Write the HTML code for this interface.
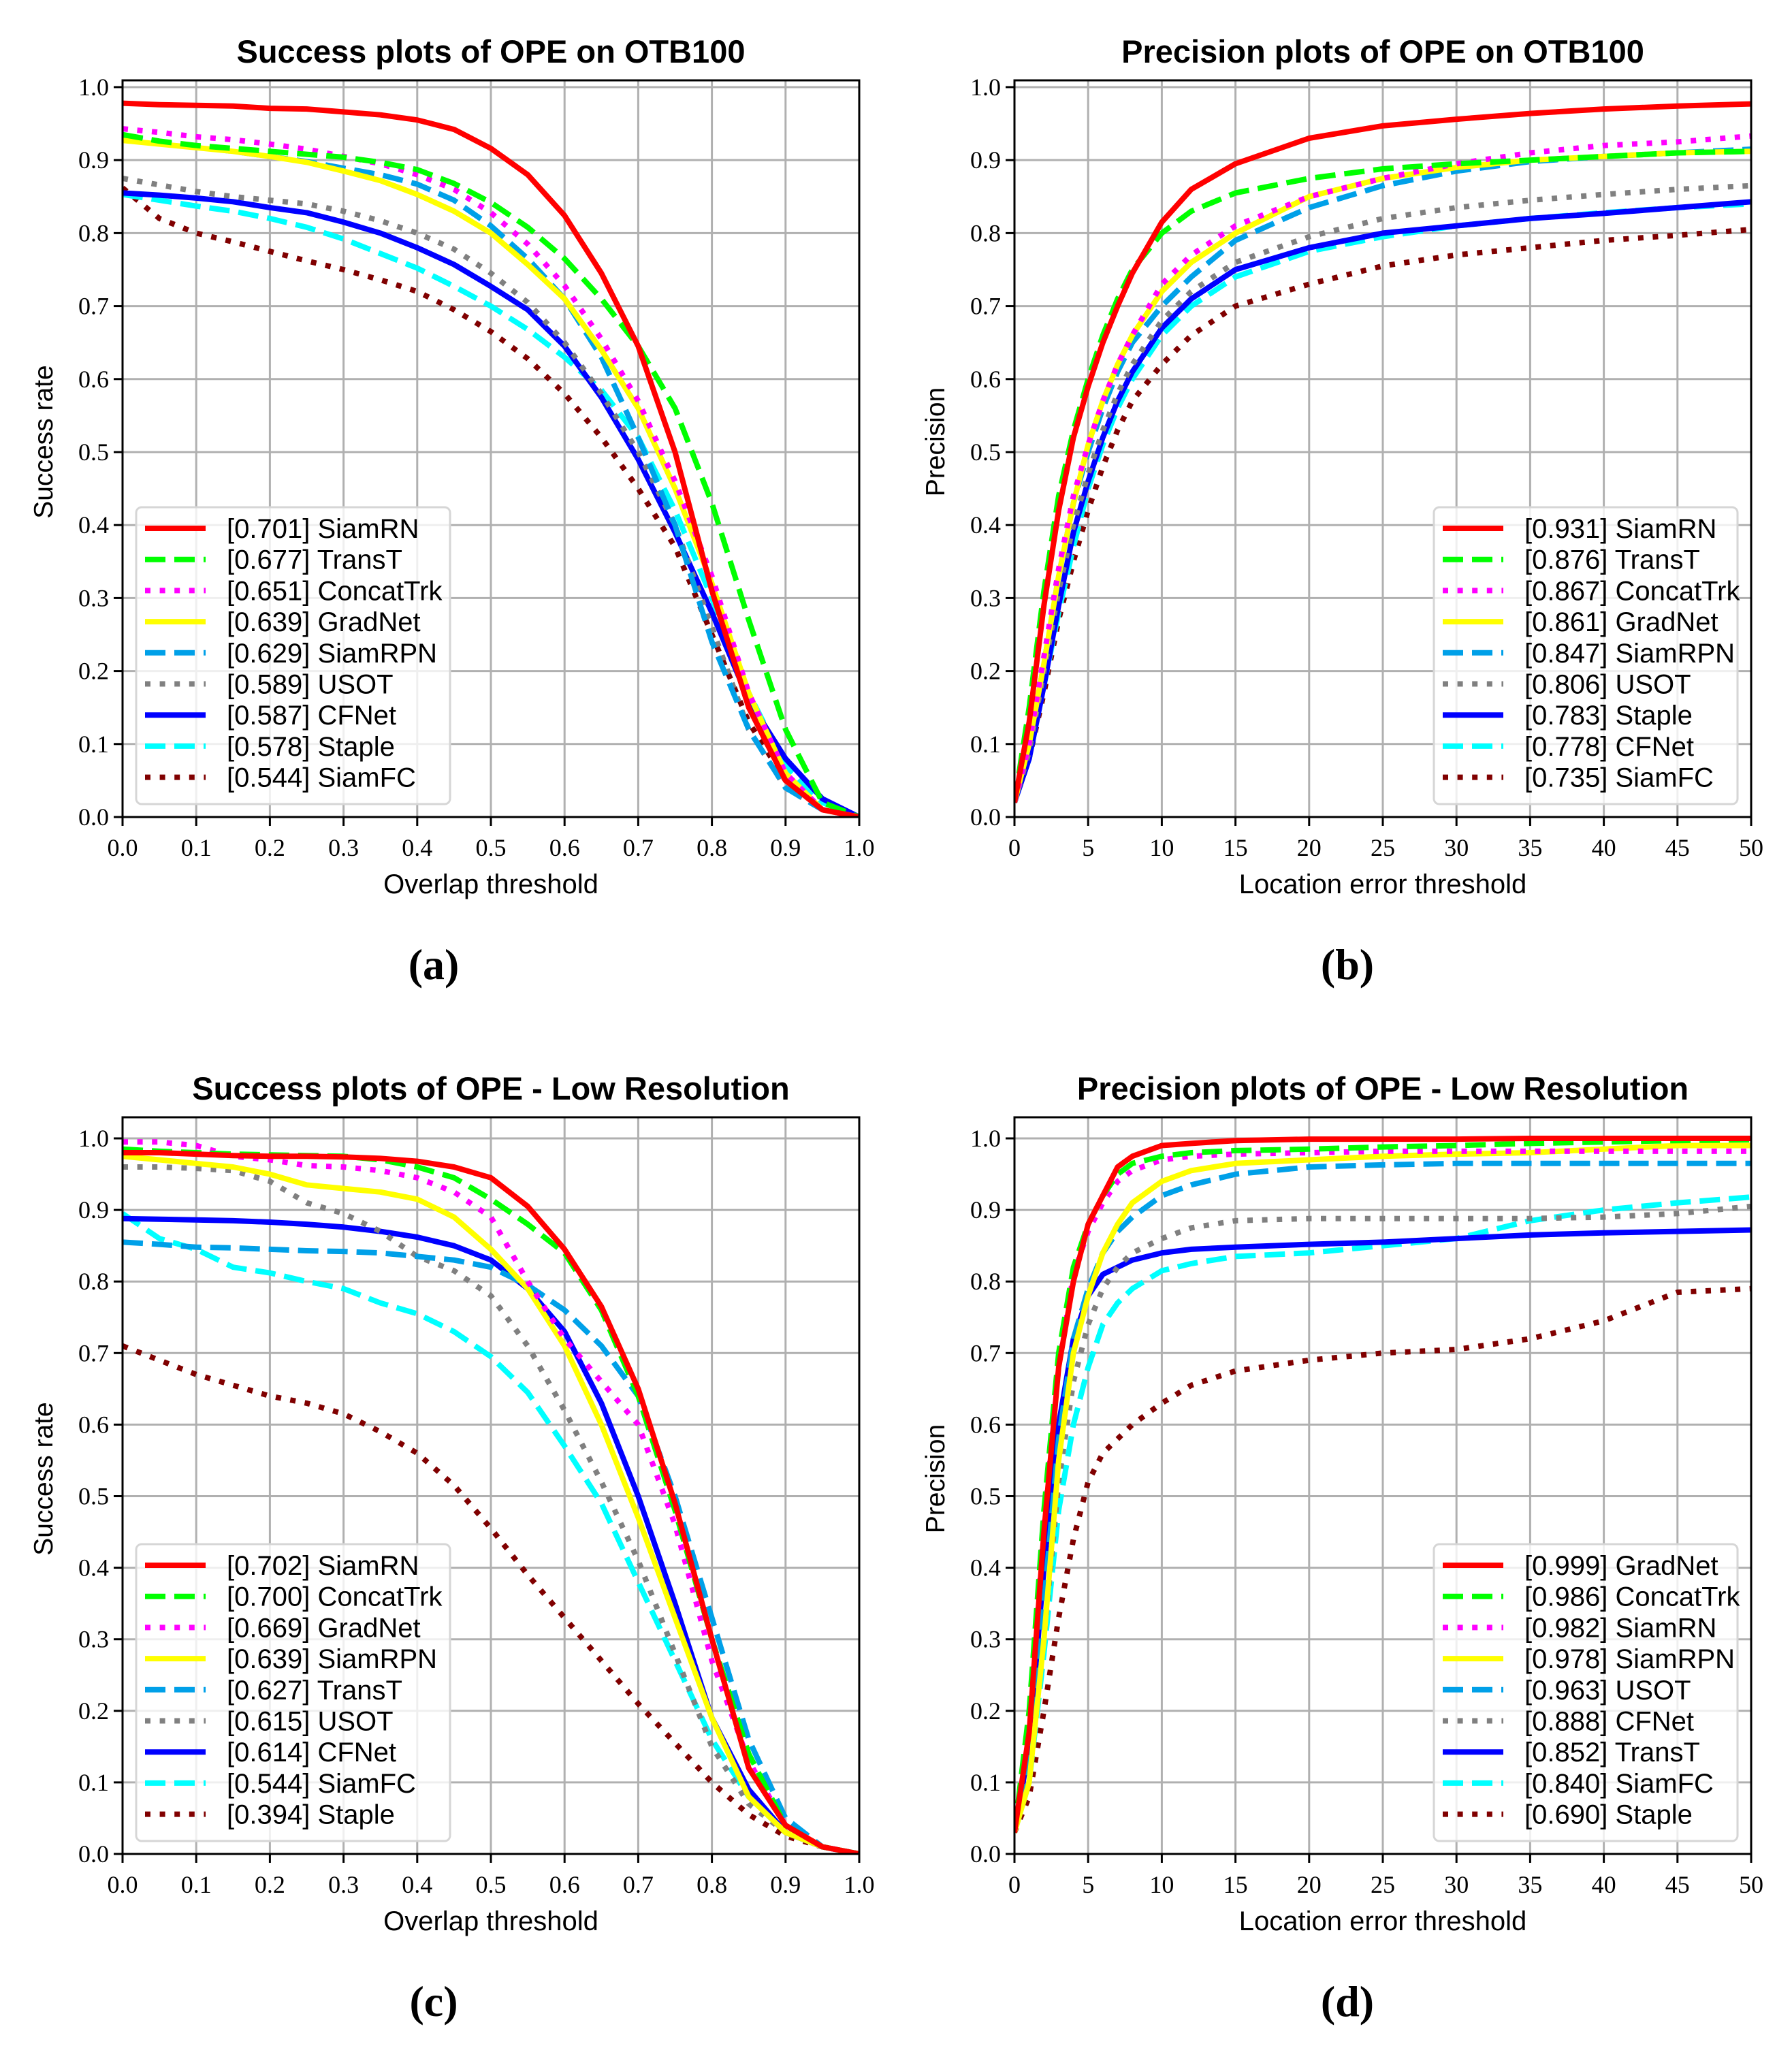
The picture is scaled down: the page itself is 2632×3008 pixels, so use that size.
<!DOCTYPE html>
<html><head><meta charset="utf-8"><style>
html,body{margin:0;padding:0;background:#fff;}
svg{display:block;}
text{fill:#000;}
</style></head><body>
<svg id="fig" width="2632" height="3008" viewBox="0 0 2632 3008" xmlns="http://www.w3.org/2000/svg"></svg>
<script>
// ---------- data ----------
const successX = [0,0.05,0.1,0.15,0.2,0.25,0.3,0.35,0.4,0.45,0.5,0.55,0.6,0.65,0.7,0.75,0.8,0.85,0.9,0.95,1.0];
const precX = [0,1,2,3,4,5,6,7,8,10,12,15,20,25,30,35,40,45,50];
const successTicks = ["0.0","0.1","0.2","0.3","0.4","0.5","0.6","0.7","0.8","0.9","1.0"];
const precTicks = ["0","5","10","15","20","25","30","35","40","45","50"];
const yTicks = ["0.0","0.1","0.2","0.3","0.4","0.5","0.6","0.7","0.8","0.9","1.0"];

// (a)
const aNames = ["SiamRN","TransT","ConcatTrk","GradNet","SiamRPN","USOT","CFNet","Staple","SiamFC"];
const aScores = ["0.701","0.677","0.651","0.639","0.629","0.589","0.587","0.578","0.544"];
const aSiamRN = [.978,.976,.975,.974,.971,.970,.966,.962,.955,.942,.916,.88,.824,.745,.645,.50,.31,.15,.05,.01,0];
const aTransT = [.935,.926,.92,.916,.912,.908,.904,.897,.887,.868,.842,.808,.765,.71,.645,.56,.43,.27,.12,.02,0];
const aConcatTrk = [.943,.938,.932,.928,.922,.915,.905,.895,.88,.86,.828,.785,.728,.655,.57,.46,.33,.17,.06,.01,0];
const aGradNet = [.927,.922,.917,.912,.905,.897,.885,.872,.853,.83,.80,.757,.71,.64,.56,.45,.32,.17,.06,.01,0];
const aSiamRPN = [.933,.925,.918,.912,.905,.898,.889,.88,.867,.845,.81,.765,.71,.63,.52,.40,.24,.12,.04,.01,0];
const aUSOT = [.875,.866,.857,.85,.845,.84,.83,.817,.80,.778,.745,.705,.65,.58,.50,.40,.26,.12,.04,.01,0];
const aCFNet = [.855,.852,.848,.843,.835,.828,.815,.80,.78,.757,.727,.695,.645,.575,.49,.39,.28,.16,.08,.025,0];
const aStaple = [.853,.845,.837,.83,.82,.808,.792,.772,.752,.727,.70,.668,.63,.585,.52,.42,.30,.17,.07,.02,0];
const aSiamFC = [.862,.82,.80,.788,.775,.762,.75,.736,.72,.695,.665,.628,.58,.52,.45,.37,.25,.13,.05,.01,0];

// (b)
const bNames = ["SiamRN","TransT","ConcatTrk","GradNet","SiamRPN","USOT","Staple","CFNet","SiamFC"];
const bScores = ["0.931","0.876","0.867","0.861","0.847","0.806","0.783","0.778","0.735"];
const bSiamRN = [.02,.13,.29,.42,.52,.59,.65,.70,.745,.815,.86,.895,.93,.947,.956,.964,.970,.974,.977];
const bTransT = [.02,.15,.31,.44,.53,.60,.66,.71,.75,.80,.83,.855,.875,.888,.895,.90,.905,.91,.912];
const bConcatTrk = [.02,.10,.22,.34,.44,.51,.57,.62,.66,.73,.77,.81,.85,.875,.895,.91,.92,.925,.933];
const bGradNet = [.02,.10,.21,.33,.43,.51,.57,.62,.66,.72,.76,.80,.85,.875,.89,.90,.905,.91,.912];
const bSiamRPN = [.02,.10,.21,.33,.43,.50,.56,.61,.65,.70,.74,.79,.835,.865,.885,.898,.905,.91,.915];
const bUSOT = [.02,.09,.20,.31,.40,.47,.53,.58,.62,.68,.72,.76,.795,.82,.835,.845,.853,.86,.865];
const bStaple = [.02,.08,.18,.29,.39,.46,.52,.57,.61,.67,.71,.75,.78,.80,.81,.82,.827,.835,.843];
const bCFNet = [.02,.08,.18,.28,.37,.45,.51,.56,.60,.66,.70,.74,.775,.795,.81,.82,.828,.835,.84];
const bSiamFC = [.02,.08,.17,.27,.35,.42,.48,.53,.57,.62,.66,.70,.73,.755,.77,.78,.79,.797,.805];

// (c)
const cNames = ["SiamRN","ConcatTrk","GradNet","SiamRPN","TransT","USOT","CFNet","SiamFC","Staple"];
const cScores = ["0.702","0.700","0.669","0.639","0.627","0.615","0.614","0.544","0.394"];
const cSiamRN = [.98,.98,.978,.976,.975,.975,.974,.972,.968,.96,.945,.905,.845,.765,.65,.49,.30,.12,.04,.01,0];
const cConcatTrk = [.985,.982,.98,.978,.977,.976,.975,.97,.96,.945,.915,.88,.84,.76,.64,.48,.30,.14,.04,.01,0];
const cGradNet = [.995,.995,.99,.975,.97,.962,.96,.955,.945,.925,.89,.80,.72,.66,.60,.46,.27,.13,.04,.01,0];
const cSiamRPN = [.975,.97,.965,.96,.95,.935,.93,.925,.915,.89,.845,.79,.71,.60,.47,.33,.19,.08,.03,.01,0];
const cTransT = [.855,.852,.848,.847,.845,.843,.842,.84,.835,.83,.82,.795,.76,.71,.64,.50,.33,.16,.05,.01,0];
const cUSOT = [.96,.96,.958,.955,.94,.91,.895,.87,.835,.815,.78,.71,.62,.52,.41,.28,.15,.07,.03,.01,0];
const cCFNet = [.888,.887,.886,.885,.883,.88,.876,.87,.862,.85,.83,.79,.73,.63,.50,.35,.19,.09,.03,.01,0];
const cSiamFC = [.895,.86,.845,.82,.812,.80,.79,.77,.755,.73,.695,.645,.57,.49,.38,.27,.16,.08,.03,.01,0];
const cStaple = [.71,.69,.67,.655,.64,.63,.615,.59,.56,.515,.455,.39,.33,.27,.21,.155,.10,.055,.025,.01,0];

// (d)
const dNames = ["GradNet","ConcatTrk","SiamRN","SiamRPN","USOT","CFNet","TransT","SiamFC","Staple"];
const dScores = ["0.999","0.986","0.982","0.978","0.963","0.888","0.852","0.840","0.690"];
const dGradNet = [.03,.17,.45,.68,.80,.88,.92,.96,.975,.99,.993,.997,.999,.999,.999,1,1,1,1];
const dConcatTrk = [.03,.2,.48,.70,.82,.88,.92,.95,.965,.975,.98,.983,.985,.988,.99,.993,.995,.997,.998];
const dSiamRN = [.03,.18,.46,.68,.81,.87,.91,.94,.955,.97,.975,.978,.98,.982,.982,.982,.982,.982,.982];
const dSiamRPN = [.03,.1,.3,.55,.70,.78,.84,.88,.91,.94,.955,.965,.97,.975,.978,.98,.985,.99,.99];
const dUSOT = [.03,.12,.35,.58,.72,.79,.84,.87,.89,.92,.935,.95,.96,.963,.965,.965,.965,.965,.965];
const dCFNet = [.03,.1,.3,.52,.66,.74,.79,.82,.84,.86,.875,.885,.888,.888,.888,.888,.89,.895,.905];
const dTransT = [.03,.15,.40,.60,.72,.78,.81,.82,.83,.84,.845,.848,.852,.855,.86,.865,.868,.87,.872];
const dSiamFC = [.03,.1,.28,.48,.60,.68,.74,.77,.79,.815,.825,.835,.84,.85,.86,.885,.90,.91,.918];
const dStaple = [.03,.08,.2,.33,.44,.52,.56,.58,.60,.63,.655,.675,.69,.70,.705,.72,.745,.785,.79];

// ---------- styles (order of legend position) ----------
const styleColors = ["#ff0000","#00ff00","#ff00ff","#ffff00","#00a0e8","#808080","#0000ff","#00ffff","#800000"];
const styleDash = ["", "30 13", "8 13.6", "", "30 13", "8 13.6", "", "30 13", "8 13.6"];

const NS = "http://www.w3.org/2000/svg";
const svg = document.getElementById("fig");
function mk(tag, attrs, parent){
  const e = document.createElementNS(NS, tag);
  for (const k in attrs) e.setAttribute(k, attrs[k]);
  (parent||svg).appendChild(e);
  return e;
}

const panels = [
  {id:"a", L:180, T:118, W:1082, H:1082, ymax:1.0093, xs:successX, xmax:1, xticks:successTicks, names:aNames, scores:aScores,
   series:[aSiamRN,aTransT,aConcatTrk,aGradNet,aSiamRPN,aUSOT,aCFNet,aStaple,aSiamFC],
   title:"Success plots of OPE on OTB100", xlabel:"Overlap threshold", ylabel:"Success rate", legX:200, cap:637},
  {id:"b", L:1490, T:118, W:1082, H:1082, ymax:1.0093, xs:precX, xmax:50, xticks:precTicks, names:bNames, scores:bScores,
   series:[bSiamRN,bTransT,bConcatTrk,bGradNet,bSiamRPN,bUSOT,bStaple,bCFNet,bSiamFC],
   title:"Precision plots of OPE on OTB100", xlabel:"Location error threshold", ylabel:"Precision", legX:2106, cap:1979},
  {id:"c", L:180, T:1641, W:1082, H:1082, ymax:1.0295, xs:successX, xmax:1, xticks:successTicks, names:cNames, scores:cScores,
   series:[cSiamRN,cConcatTrk,cGradNet,cSiamRPN,cTransT,cUSOT,cCFNet,cSiamFC,cStaple],
   title:"Success plots of OPE - Low Resolution", xlabel:"Overlap threshold", ylabel:"Success rate", legX:200, cap:637},
  {id:"d", L:1490, T:1641, W:1082, H:1082, ymax:1.0295, xs:precX, xmax:50, xticks:precTicks, names:dNames, scores:dScores,
   series:[dGradNet,dConcatTrk,dSiamRN,dSiamRPN,dUSOT,dCFNet,dTransT,dSiamFC,dStaple],
   title:"Precision plots of OPE - Low Resolution", xlabel:"Location error threshold", ylabel:"Precision", legX:2106, cap:1979}
];

panels.forEach(p => {
  const g = mk("g", {});
  
  
  const xS = v => p.L + v / p.xmax * p.W;
  const yS = v => p.T + p.H - v / p.ymax * p.H;
  const B = p.T + p.H, R = p.L + p.W;

  const grid = mk("g", {stroke:"#b0b0b0","stroke-width":3}, g);
  
  
  p.xticks.forEach(t => {
    const x = xS(parseFloat(t));
    mk("line",{x1:x,x2:x,y1:p.T,y2:B},grid);
  });
  yTicks.forEach(t => {
    const y = yS(parseFloat(t));
    mk("line",{x1:p.L,x2:R,y1:y,y2:y},grid);
  });

  const clipId = "clip" + p.id;
  const cp = mk("clipPath",{id:clipId},g);
  mk("rect",{x:p.L,y:p.T,width:p.W,height:p.H},cp);
  const sg = mk("g",{"clip-path":"url(#"+clipId+")"},g);
  for (let i = p.series.length-1; i >= 0; i--) {
    const vals = p.series[i];
    const d = vals.map((v,k) => (k?"L":"M") + xS(p.xs[k]).toFixed(1) + "," + yS(v).toFixed(1)).join(" ");
    const path = mk("path",{d:d,fill:"none",stroke:styleColors[i],"stroke-width":8,"stroke-linejoin":"round"},sg);
    if (styleDash[i]) path.setAttribute("stroke-dasharray", styleDash[i]);
    
    
  }

  const fr = mk("rect",{x:p.L,y:p.T,width:p.W,height:p.H,fill:"none",stroke:"#000","stroke-width":3},g);
  
  

  const xt = mk("g",{},g);
  
  
  p.xticks.forEach(t => {
    const x = xS(parseFloat(t));
    mk("line",{x1:x,x2:x,y1:B,y2:B+13,stroke:"#000","stroke-width":3},xt);
    const tx = mk("text",{x:x,y:B+57,"text-anchor":"middle","font-family":"Liberation Serif, serif","font-size":36},xt);
    tx.textContent = t;
  });
  const yt = mk("g",{},g);
  
  
  yTicks.forEach(t => {
    const y = yS(parseFloat(t));
    mk("line",{x1:p.L-13,x2:p.L,y1:y,y2:y,stroke:"#000","stroke-width":3},yt);
    const tx = mk("text",{x:p.L-20,y:y+12,"text-anchor":"end","font-family":"Liberation Serif, serif","font-size":36},yt);
    tx.textContent = t;
  });

  const cx = p.L + p.W/2;
  const ti = mk("text",{x:cx,y:p.T-26,"text-anchor":"middle","font-family":"Liberation Sans, sans-serif","font-weight":"bold","font-size":47},g);
  ti.textContent = p.title;
  
  
  const xl = mk("text",{x:cx,y:B+112,"text-anchor":"middle","font-family":"Liberation Sans, sans-serif","font-size":40},g);
  xl.textContent = p.xlabel;
  
  
  const ly = p.T + p.H/2 - 10;
  const yl = mk("text",{x:0,y:0,"text-anchor":"middle","font-family":"Liberation Sans, sans-serif","font-size":39,transform:"translate("+(p.L-103)+","+ly+") rotate(-90)"},g);
  yl.textContent = p.ylabel;
  
  

  const cap = mk("text",{x:p.cap,y:B+238,"text-anchor":"middle","font-family":"Liberation Serif, serif","font-weight":"bold","font-size":64},g);
  cap.textContent = "(" + p.id + ")";
  
  

  const lg = mk("g",{},g);
  
  
  const lw = (p.id==="a"||p.id==="c") ? 461 : 446;
  const lx = p.legX, ltop = B - 19 - 436;
  mk("rect",{x:lx,y:ltop,width:lw,height:436,rx:8,fill:"rgba(255,255,255,0.8)",stroke:"#d6d6d6","stroke-width":3},lg);
  p.names.forEach((n,i) => {
    const ry = ltop + 31 + i*45.7;
    const e = mk("g",{},lg);
    
    
    const ln = mk("line",{x1:lx+13,x2:lx+102,y1:ry,y2:ry,stroke:styleColors[i],"stroke-width":8},e);
    if (styleDash[i]) ln.setAttribute("stroke-dasharray", styleDash[i]);
    const tx = mk("text",{x:lx+133,y:ry+14,"font-family":"Liberation Sans, sans-serif","font-size":40},e);
    tx.textContent = "[" + p.scores[i] + "] " + n;
  });
});
</script>
</body></html>
